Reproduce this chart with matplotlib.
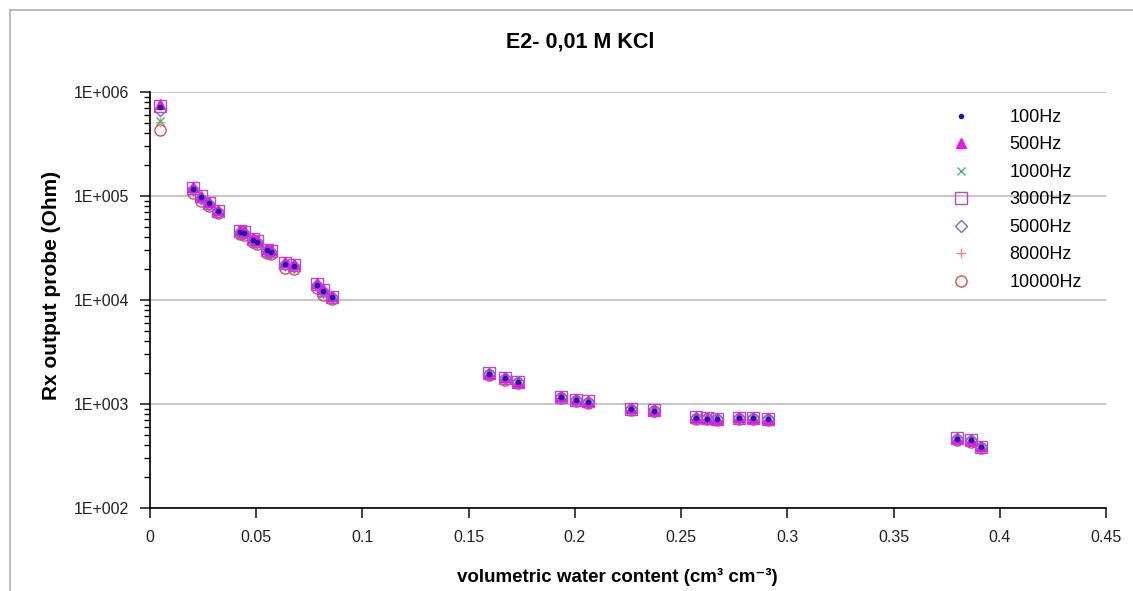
import matplotlib
matplotlib.use('Agg')
import matplotlib.pyplot as plt
from matplotlib.lines import Line2D
from matplotlib.ticker import FixedLocator, LogLocator, NullFormatter

plt.rcParams['font.family'] = ['Liberation Sans', 'DejaVu Sans']

# volumetric water content (cm3 cm-3)
x_vwc = [0.0047, 0.0204, 0.0240, 0.0279, 0.0321, 0.0424, 0.0444, 0.0486, 0.0503, 0.0549,
         0.0568, 0.0635, 0.0678, 0.0785, 0.0813, 0.0855, 0.1597, 0.1671, 0.1731, 0.1935,
         0.2005, 0.2060, 0.2264, 0.2374, 0.2570, 0.2620, 0.2667, 0.2774, 0.2837, 0.2907,
         0.3800, 0.3863, 0.3910]

# Rx output probe (Ohm) per frequency
rx_100 = [720000, 118000, 97000, 85000, 71000, 45000, 44500, 38000, 36500, 30000, 29000, 22000,
          21000, 14000, 12300, 10600, 1950, 1760, 1610, 1160, 1090, 1050, 890, 865, 735, 725,
          715, 730, 730, 710, 465, 450, 385]
rx_500 = [760000, 123000, 101000, 88000, 73000, 47000, 46000, 39500, 37500, 31000, 30000, 23000,
          22000, 14600, 12700, 10900, 2000, 1800, 1640, 1190, 1110, 1070, 910, 880, 750, 740,
          725, 745, 740, 720, 475, 455, 395]
rx_1000 = [530000, 112000, 93000, 82000, 69000, 44000, 43500, 37000, 35500, 29500, 28500, 21500,
           20500, 13500, 11500, 10500, 1930, 1740, 1600, 1150, 1080, 1040, 880, 860, 730, 720,
           710, 725, 725, 705, 460, 445, 383]
rx_3000 = [740000, 120000, 99000, 86000, 72000, 46000, 45000, 38500, 37000, 30500, 29500, 22500,
           21500, 14300, 12500, 10800, 1980, 1780, 1620, 1170, 1100, 1060, 900, 870, 745, 735,
           720, 740, 735, 715, 470, 452, 390]
rx_5000 = [670000, 116000, 96000, 84000, 70500, 45500, 44500, 38000, 36000, 30000, 29000, 22000,
           21000, 14000, 12200, 10700, 1960, 1770, 1610, 1160, 1090, 1050, 890, 865, 738, 728,
           715, 735, 730, 710, 465, 448, 387]
rx_8000 = [520000, 110000, 92000, 81000, 68500, 44000, 43000, 37000, 35000, 29000, 28000, 21000,
           20000, 13300, 11400, 10400, 1920, 1730, 1590, 1140, 1070, 1030, 875, 855, 725, 715,
           705, 720, 720, 700, 455, 440, 380]
rx_10000 = [430000, 107000, 90000, 80000, 68000, 43500, 42500, 36500, 34500, 28500, 27500, 20500,
            19800, 13000, 11200, 10300, 1900, 1720, 1580, 1130, 1060, 1020, 870, 850, 720, 710,
            700, 715, 715, 695, 450, 435, 377]

labels = ['100Hz', '500Hz', '1000Hz', '3000Hz', '5000Hz', '8000Hz', '10000Hz']
series = [rx_100, rx_500, rx_1000, rx_3000, rx_5000, rx_8000, rx_10000]

y_ticks = [1e2, 1e3, 1e4, 1e5, 1e6]
y_ticklabels = ['1E+002', '1E+003', '1E+004', '1E+005', '1E+006']
x_ticks = [0, 0.05, 0.1, 0.15, 0.2, 0.25, 0.3, 0.35, 0.4, 0.45]
x_ticklabels = ['0', '0.05', '0.1', '0.15', '0.2', '0.25', '0.3', '0.35', '0.4', '0.45']

# marker, size, face, edge, zorder
styles = [
    ('.', 6, '#1a1aa8', '#1a1aa8', 10),
    ('^', 7, '#e619e6', '#e619e6', 9),
    ('x', 6, '#4caf8a', '#4caf8a', 7),
    ('s', 8, 'none', '#b04fc8', 8),
    ('D', 6, 'none', '#6f6fd8', 6),
    ('+', 7, '#f08c8c', '#f08c8c', 5),
    ('o', 8, 'none', '#d85050', 4),
]

fig = plt.figure(figsize=(11.33, 5.91), dpi=100)
ax = fig.add_axes([150/1133, 1-508/591, (1106-150)/1133, (508-92)/591])

for y, lab, (m, ms, fc, ec, z) in zip(series, labels, styles):
    ax.plot(x_vwc, y, linestyle='none', marker=m, markersize=ms, markerfacecolor=fc,
            markeredgecolor=ec, markeredgewidth=1.0, label=lab, zorder=z)

ax.set_yscale('log')
ax.set_ylim(1e2, 1e6)
ax.set_xlim(0, 0.45)
ax.yaxis.set_major_locator(FixedLocator(y_ticks))
ax.set_yticklabels(y_ticklabels)
ax.yaxis.set_minor_locator(LogLocator(base=10, subs=range(2, 10)))
ax.yaxis.set_minor_formatter(NullFormatter())
ax.set_xticks(x_ticks)
ax.set_xticklabels(x_ticklabels)

ax.grid(axis='y', which='major', color='#c8c8c8', linewidth=1.5)
ax.set_axisbelow(True)
ax.spines['top'].set_visible(False)
ax.spines['right'].set_visible(False)
ax.spines['left'].set_linewidth(1.2)
ax.spines['bottom'].set_linewidth(1.2)
ax.tick_params(axis='both', which='major', length=7, width=1.2, labelsize=11.5, colors='#222222')
ax.tick_params(axis='x', pad=9)
ax.tick_params(axis='y', pad=8)
ax.tick_params(axis='y', which='minor', length=4, width=1.0)

ax.set_xlabel('volumetric water content (cm³ cm⁻³)', fontsize=13.5, fontweight='bold')
ax.xaxis.set_label_coords((617-150)/956, -(577-508)/416)
ax.xaxis.label.set_va('center')
ax.set_ylabel('Rx output probe (Ohm)', fontsize=15, fontweight='bold')
ax.yaxis.set_label_coords(-(150-52)/956, (508-285)/416)
ax.yaxis.label.set_va('center')
fig.text(580/1133, 1-42/591, 'E2- 0,01 M KCl', fontsize=15.5, fontweight='bold',
         ha='center', va='center')

leg = ax.legend(loc='upper left', bbox_to_anchor=(943/1133, 1-100/591),
                bbox_transform=fig.transFigure, frameon=False, fontsize=13,
                handlelength=1.0, handletextpad=2.17, labelspacing=0.58, borderpad=0)

# thin grey frame lines at top and left
fig.add_artist(Line2D([10/1133, 10/1133], [0, 1-10/591], transform=fig.transFigure,
                      color='#b0b0b0', linewidth=1.2))
fig.add_artist(Line2D([10/1133, 1], [1-10/591, 1-10/591], transform=fig.transFigure,
                      color='#b0b0b0', linewidth=1.2))

fig.savefig('out.png', dpi=100)
